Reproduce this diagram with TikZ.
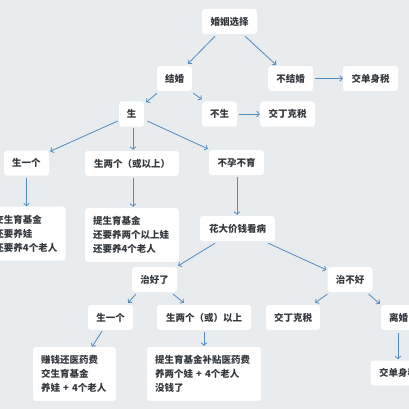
\documentclass[tikz,border=0pt]{standalone}
\usepackage{fontspec}
\setmainfont{Noto Sans CJK SC}
\usetikzlibrary{arrows.meta,calc}
\definecolor{bg}{HTML}{E9ECEF}
\definecolor{arr}{HTML}{4F8AC2}
\definecolor{txt}{HTML}{33383D}
\begin{document}
\begin{tikzpicture}[x=1pt,y=-1pt,
 box/.style={fill=white,rounded corners=3pt,inner sep=0pt,minimum height=25pt,minimum width=#1,text=txt,font=\fontsize{9.5}{14}\selectfont\bfseries},
 box/.default=45pt,
 multi/.style={fill=white,rounded corners=3pt,inner ysep=0pt,inner xsep=8pt,minimum height=54pt,align=left,text width=#1,text=txt,font=\fontsize{9.5}{14}\selectfont\bfseries},
 link/.style={draw=arr,line width=0.8pt,-{Straight Barb[length=2.5pt,width=5.5pt]}}]
\useasboundingbox (0,0) rectangle (409,409);
\clip (0,0) rectangle (409,409);
\fill[bg] (0,0) rectangle (409,409);
% nodes
\node[box=55pt] (a) at (229.5,21.5) {婚姻选择};
\node[box=35pt] (b) at (174.5,78.5) {结婚};
\node[box=45pt] (c) at (290.5,78.5) {不结婚};
\node[box=55pt] (d) at (370.5,78.5) {交单身税};
\node[box=25pt] (e) at (131.5,114) {生};
\node[box=35pt] (f) at (219.5,114) {不生};
\node[box=55pt] (g) at (287.5,114) {交丁克税};
\node[box=45pt] (h) at (26.5,163) {生一个};
\node[box=94pt] (i) at (132,163.5) {生两个（或以上）};
\node[box=55pt] (j) at (236.5,162.5) {不孕不育};
\node[multi=63pt] (k) at (26,233.5) {交生育基金\\还要养娃\\还要养4个老人};
\node[multi=78pt] (l) at (132,235) {提生育基金\\还要养两个以上娃\\还要养4个老人};
\node[box=75pt] (m) at (237.5,228.5) {花大价钱看病};
\node[box=45pt] (n) at (154.5,279.5) {治好了};
\node[box=45pt] (o) at (350,279.5) {治不好};
\node[box=45pt] (p) at (110.5,317.5) {生一个};
\node[box=94pt] (q) at (204,317.5) {生两个（或）以上};
\node[box=54pt] (r) at (293,317.5) {交丁克税};
\node[box=35pt] (s) at (398.5,317.5) {离婚};
\node[multi=67pt] (t) at (74.5,374) {赚钱还医药费\\交生育基金\\养娃 + 4个老人};
\node[multi=98pt] (u) at (204,374) {提生育基金补贴医药费\\养两个娃 + 4个老人\\没钱了};
\node[box=55pt] (v) at (398,373) {交单身税};
% links
\draw[link] ($(a.south)+(-14.5,2)$) -- ($(b.north)+(13.5,-2)$);
\draw[link] ($(a.south)+(15.5,2)$) -- ($(c.north)+(-14.5,-1)$);
\draw[link,shorten <=2pt] (c.east) -- (d.west);
\draw[link] ($(b.south)+(-17.5,2)$) -- ($(e.north east)+(2,1)$);
\draw[link] ($(b.south east)+(1,2)$) -- ($(f.north west)+(0,-2)$);
\draw[link,shorten <=2pt] (f.east) -- (g.west);
\draw[link] ($(e.west)+(-1,7)$) -- ($(h.north east)+(1,1)$);
\draw[link] ($(e.south)+(1.5,1)$) -- ($(i.north)+(1,-1)$);
\draw[link] ($(e.east)+(3,7)$) -- ($(j.north west)+(-1,-1)$);
\draw[link] ($(h.south)+(0,2)$) -- (h.south |- k.north);
\draw[link] ($(i.south)+(1,2)$) -- ($(l.north)+(1,-1)$);
\draw[link] ($(j.south)+(0.5,2)$) -- ($(m.north)+(-0.5,-1)$);
\draw[link] ($(m.south)+(-22.5,2)$) -- ($(n.north east)+(1,-1)$);
\draw[link] ($(m.south east)+(-7,2)$) -- ($(o.north west)+(-1,3)$);
\draw[link] ($(n.south west)+(4,2)$) -- ($(p.north east)+(-5,-2)$);
\draw[link] ($(n.south east)+(-4,2)$) -- ($(q.north west)+(27,-2)$);
\draw[link] ($(o.south west)+(0,2)$) -- ($(r.north east)+(-5,-2)$);
\draw[link] ($(o.south east)+(-4,2)$) -- ($(s.north west)+(-1,-1)$);
\draw[link] ($(p.south)+(-8.5,1)$) -- ($(t.north)+(17.5,0)$);
\draw[link] ($(q.south)+(0,2)$) -- ($(u.north)+(0,-1)$);
\draw[link] ($(s.south)+(-0.5,3)$) -- ($(v.north)+(0,-1)$);
\end{tikzpicture}
\end{document}
